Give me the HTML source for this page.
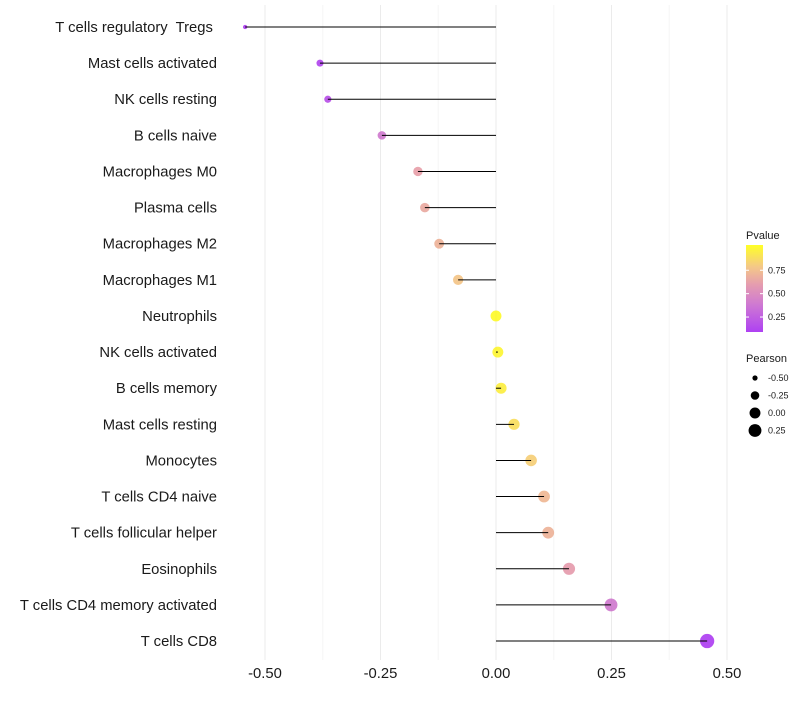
<!DOCTYPE html>
<html><head><meta charset="utf-8"><style>
body{margin:0;background:#fff;font-family:"Liberation Sans",sans-serif}
</style></head><body>
<svg id="c" width="800" height="700"></svg>
<script>
const categories=["T cells regulatory  Tregs ","Mast cells activated","NK cells resting","B cells naive","Macrophages M0","Plasma cells","Macrophages M2","Macrophages M1","Neutrophils","NK cells activated","B cells memory","Mast cells resting","Monocytes","T cells CD4 naive","T cells follicular helper","Eosinophils","T cells CD4 memory activated","T cells CD8"];
const pearson=[-0.543,-0.381,-0.364,-0.247,-0.169,-0.154,-0.123,-0.082,0.0,0.004,0.011,0.039,0.076,0.104,0.113,0.158,0.249,0.457];
const pvalue=[0.10,0.13,0.18,0.40,0.62,0.66,0.70,0.78,1.0,0.98,0.95,0.88,0.82,0.72,0.70,0.60,0.40,0.10];
const xTicks=[-0.5,-0.25,0,0.25,0.5];
const xTickLabels=["-0.50","-0.25","0.00","0.25","0.50"];
const pTicks=[0.25,0.5,0.75];
const sizeTicks=[-0.5,-0.25,0,0.25];

const NS="http://www.w3.org/2000/svg",svg=document.getElementById('c');
function mk(t,a,p){const e=document.createElementNS(NS,t);for(const k in a)e.setAttribute(k,a[k]);(p||svg).appendChild(e);return e;}
const x=v=>496+v*462;
const y=i=>27+i*36.12;
const pmin=0.09,pmax=1.02;
const stops=[[0,[160,32,240]],[0.33,[200,100,200]],[0.55,[225,140,160]],[0.75,[242,190,115]],[1,[255,255,0]]];
function col(p){const t=Math.max(0,Math.min(1,(p-pmin)/(pmax-pmin)));
 let k=0;while(k<stops.length-2&&t>stops[k+1][0])k++;
 const [t0,a]=stops[k],[t1,b]=stops[k+1];const f=(t-t0)/(t1-t0);
 const c=a.map((v,j)=>Math.round(v+(b[j]-v)*f));return `rgb(${c})`;}
const rad=v=>Math.sqrt(4+46*Math.max(0,v+0.56));
// grid
[-0.375,-0.125,0.125,0.375].forEach(t=>{
 const g=mk('line',{x1:x(t),x2:x(t),y1:5,y2:660,stroke:'#f5f5f5','stroke-width':1});
 
});
xTicks.forEach((t,i)=>{
 const g=mk('line',{x1:x(t),x2:x(t),y1:5,y2:660,stroke:'#ebebeb','stroke-width':1});
 
 const lb=mk('text',{x:x(t),y:678,'text-anchor':'middle','font-size':14.8,fill:'#1a1a1a'});lb.textContent=xTickLabels[i];
 
});
categories.forEach((c,i)=>{
 const lb=mk('text',{x:217,y:y(i)+5,'text-anchor':'end','font-size':14.8,fill:'#1a1a1a'});lb.textContent=c;
 lb.setAttribute('xml:space','preserve');lb.style.whiteSpace='pre';
 
 const pt=mk('circle',{cx:x(pearson[i]),cy:y(i),r:rad(pearson[i]),fill:col(pvalue[i]),'fill-opacity':0.8});
 
 const sg=mk('line',{x1:x(0),x2:x(pearson[i]),y1:y(i),y2:y(i),stroke:'#000','stroke-width':1});
 
});
// color legend
const lt=mk('text',{x:746,y:239,'font-size':11,fill:'#1a1a1a'});lt.textContent='Pvalue';

const defs=mk('defs',{});const gr=mk('linearGradient',{id:'g',x1:0,y1:1,x2:0,y2:0},defs);
for(let k=0;k<=20;k++){const p=pmin+(pmax-pmin)*k/20;mk('stop',{offset:k/20,'stop-color':col(p),'stop-opacity':0.85},gr);}
const cb=mk('rect',{x:746,y:245,width:17,height:87,fill:'url(#g)'});

const py=p=>332-(p-pmin)/(pmax-pmin)*87;
pTicks.forEach(p=>{
 mk('line',{x1:746,x2:749,y1:py(p),y2:py(p),stroke:'#fff'});mk('line',{x1:760,x2:763,y1:py(p),y2:py(p),stroke:'#fff'});
 const t=mk('text',{x:768,y:py(p)+3,'font-size':9,fill:'#1a1a1a'});t.textContent=p.toFixed(2);
 
});
const st=mk('text',{x:746,y:362,'font-size':11,fill:'#1a1a1a'});st.textContent='Pearson';

sizeTicks.forEach((s,i)=>{
 const cy=378+i*17.5;
 const d=mk('circle',{cx:755,cy:cy,r:rad(s),fill:'#000'});
 
 const t=mk('text',{x:768,y:cy+3,'font-size':9,fill:'#1a1a1a'});t.textContent=s.toFixed(2);
 
});
</script></body></html>
